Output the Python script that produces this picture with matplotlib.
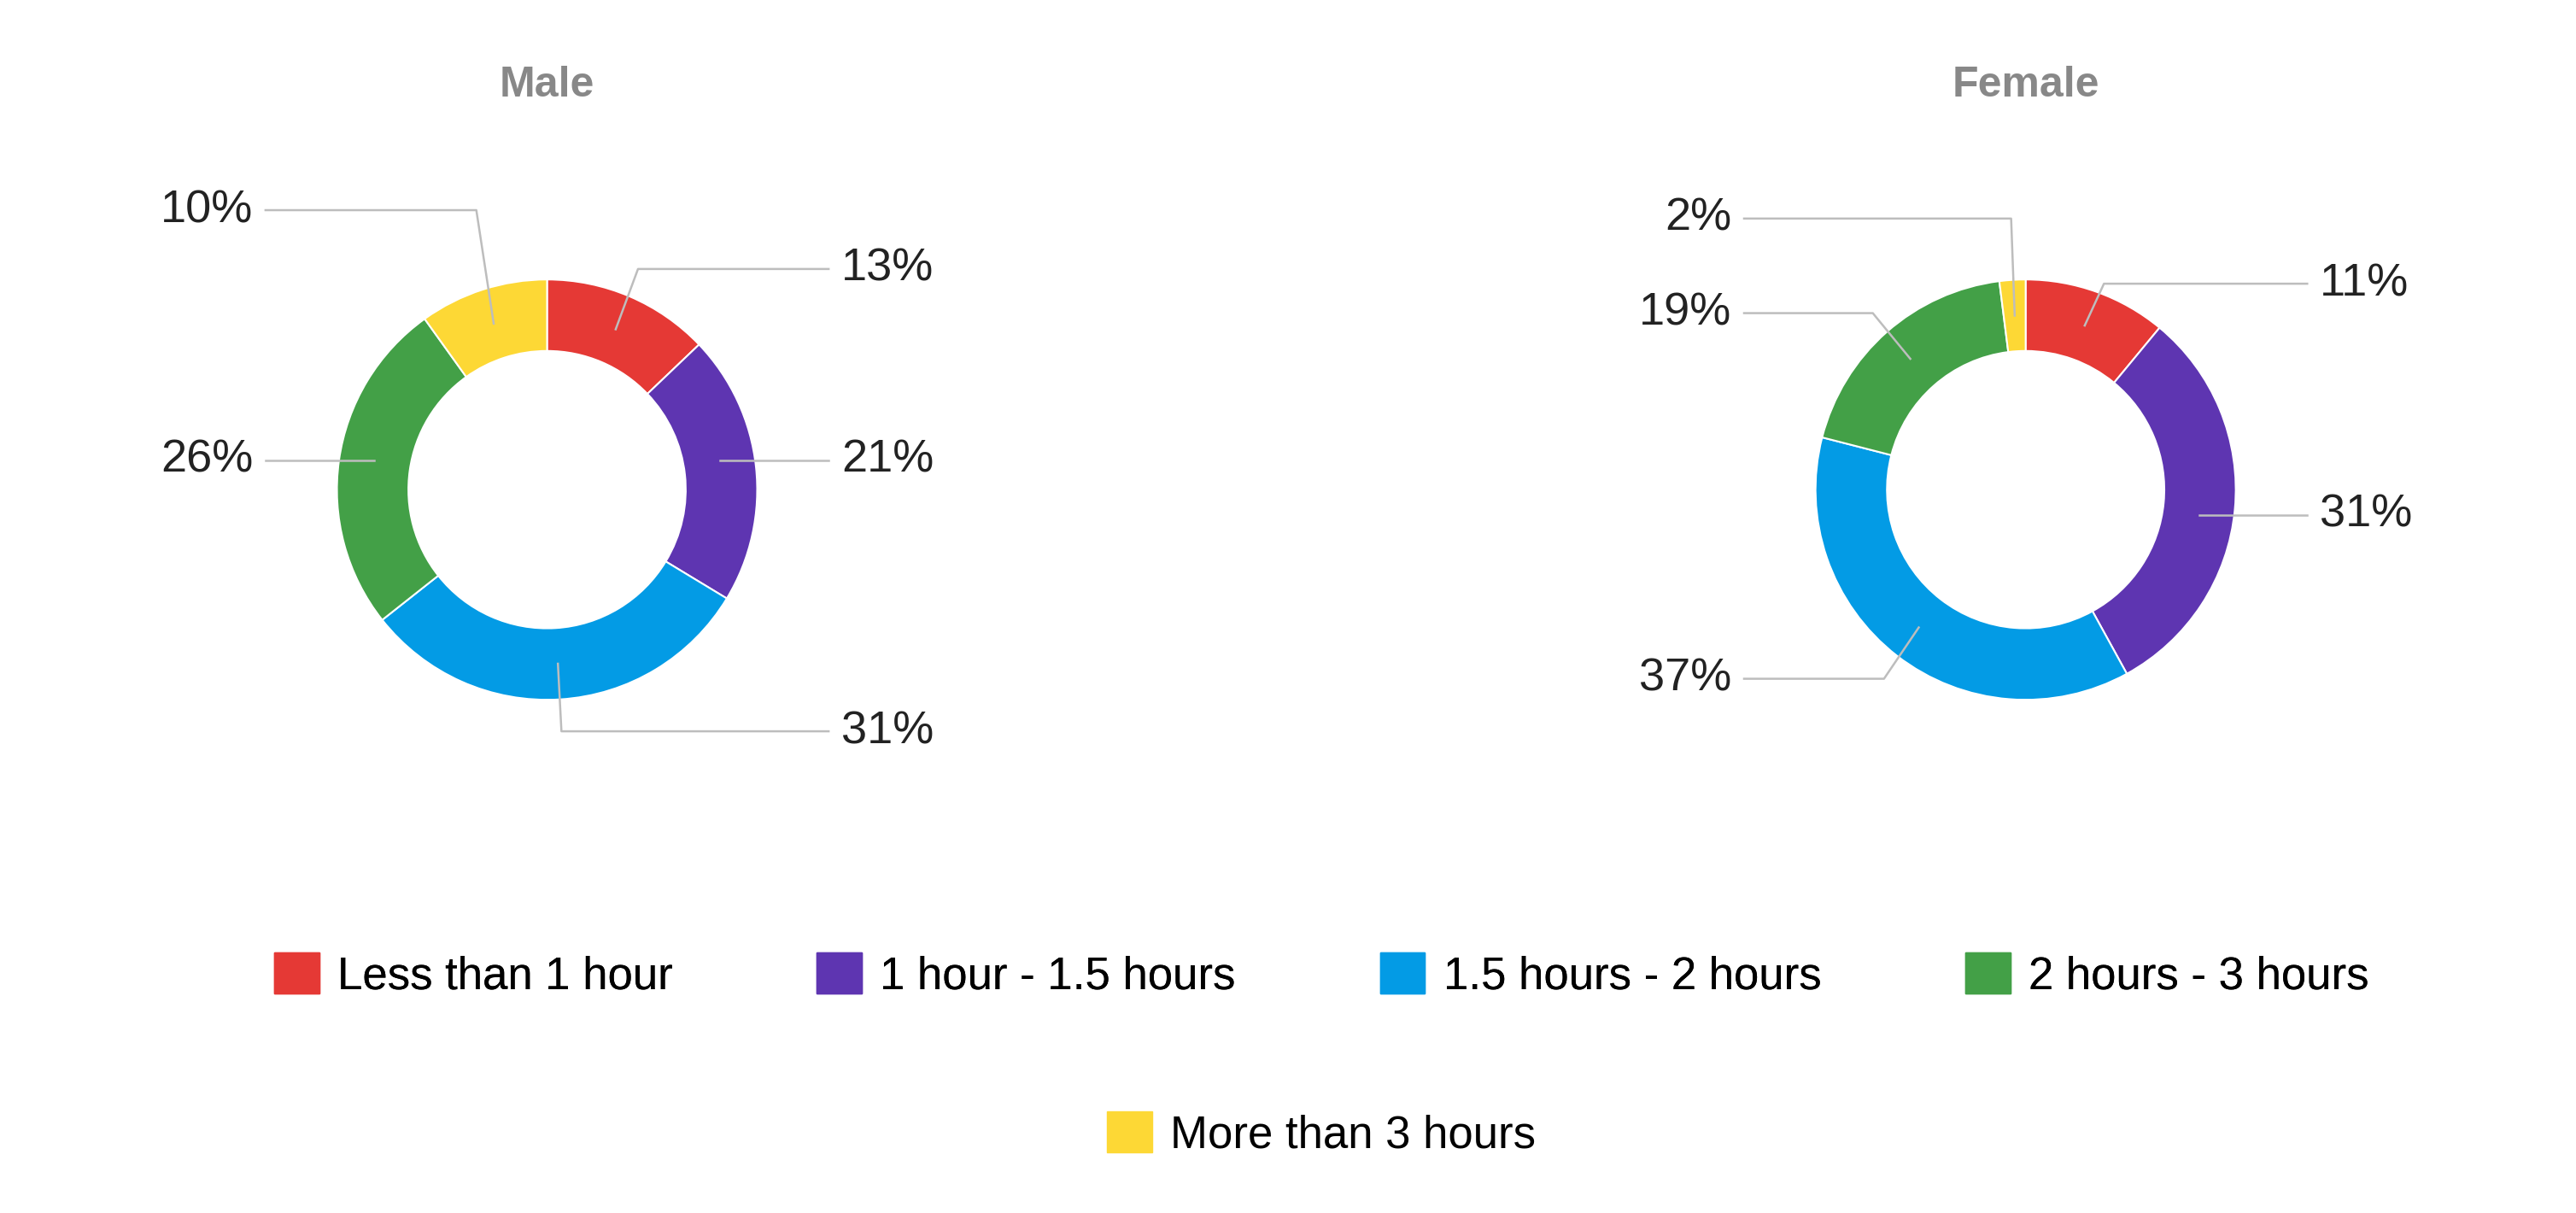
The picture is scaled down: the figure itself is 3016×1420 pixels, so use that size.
import matplotlib

matplotlib.use("Agg")
import matplotlib.pyplot as plt
import numpy as np
from matplotlib.patches import Patch

categories = ["Less than 1 hour", "1 hour - 1.5 hours", "1.5 hours - 2 hours",
              "2 hours - 3 hours", "More than 3 hours"]
male = [13, 21, 31, 26, 10]
female = [11, 31, 37, 19, 2]
colors = ["#E53935", "#5E35B1", "#039BE5", "#43A047", "#FDD835"]

FONT = ["Liberation Sans Narrow", "Liberation Sans", "DejaVu Sans"]
plt.rcParams["font.family"] = FONT

W, H = 3016, 1420
fig = plt.figure(figsize=(W / 100, H / 100), dpi=100)
R_PX = 246  # pie radius in pixels


def donut(cx, cy, values, title, label_y):
    span = 2.7
    size = span * R_PX
    ax = fig.add_axes([(cx - size / 2) / W, (cy - size / 2) / H, size / W, size / H])
    ax.pie(values, colors=colors, startangle=90, counterclock=False,
           radius=1.0, wedgeprops=dict(width=0.34, edgecolor="white", linewidth=1.5))
    ax.set_xlim(-span / 2, span / 2)
    ax.set_ylim(-span / 2, span / 2)
    ax.axis("off")
    total = sum(values)
    cum = 0
    for v, ly in zip(values, label_y):
        mid = 90 - (cum + v / 2) / total * 360
        cum += v
        t = np.deg2rad(mid)
        sx, sy = 0.83 * np.cos(t), 0.83 * np.sin(t)
        side = 1 if np.cos(t) >= 0 else -1
        if abs(ly - sy) < 0.15:
            xs, ys = [sx, side * 1.34], [ly, ly]
        else:
            xs = [sx, 1.1 * np.cos(t), side * 1.34]
            ys = [sy, ly, ly]
        ax.plot(xs, ys, color="#BDBDBD", linewidth=1.8, clip_on=False)
        ax.text(side * 1.4, ly, f"{v}%", ha="left" if side > 0 else "right",
                va="center", fontsize=39, color="#222222", clip_on=False)
    fig.text(cx / W, (H - 100) / H, title, ha="center", va="center", fontsize=36,
             fontweight="bold", color="#888888")


scale = W / 1568
cy = H - 298 * scale
donut(333 * scale, cy, male, "Male", [1.05, 0.14, -1.15, 0.14, 1.33])
donut(1233 * scale, cy, female, "Female", [0.98, -0.12, -0.9, 0.84, 1.29])

handles = [Patch(facecolor=c, edgecolor=c, label=l) for c, l in zip(colors, categories)]
leg1 = fig.legend(handles=handles[:4], loc="center", bbox_to_anchor=(0.513, 0.196), ncol=4,
                  frameon=False, fontsize=38, handlelength=1.0, handleheight=1.0,
                  columnspacing=3.2, handletextpad=0.4)
fig.add_artist(leg1)
fig.legend(handles=handles[4:], loc="center", bbox_to_anchor=(0.513, 0.065), ncol=1,
           frameon=False, fontsize=38, handlelength=1.0, handleheight=1.0, handletextpad=0.4)

fig.savefig("out.png", dpi=100)
